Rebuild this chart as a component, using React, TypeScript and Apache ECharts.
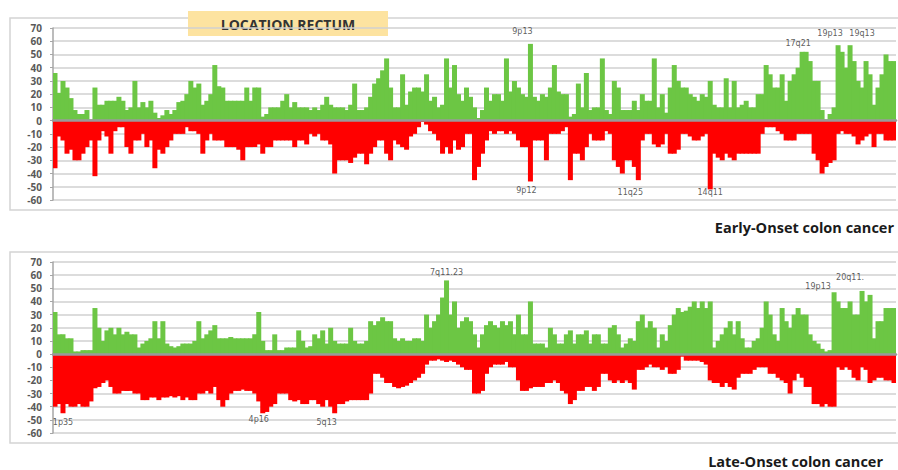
import React, { useEffect, useRef } from "react";
import * as echarts from "echarts";

// ---- Data ----
const earlyGain: number[] = [
  36, 21, 30, 25, 17, 8, 5, 5, 8, 1, 25, 12, 12, 15, 15, 15, 18, 15, 8, 10,
  30, 10, 14, 10, 15, 6, 2, 4, 8, 5, 8, 14, 15, 20, 30, 25, 28, 12, 15, 20,
  42, 26, 25, 15, 15, 15, 15, 15, 25, 15, 25, 25, 3, 5, 10, 10, 10, 15, 20, 10,
  14, 10,
  10, 10, 8, 10, 8, 12, 18, 12, 10, 10, 10, 8, 12, 28, 8, 8, 10, 18, 28, 32,
  38, 47, 25, 10, 10, 35, 12, 22, 25, 25, 22, 35, 15, 18, 10, 12, 47, 25, 42, 20,
  15, 25, 18, 10, 2, 8, 25, 15, 20, 20, 15, 47, 22, 30, 25, 20, 18, 58, 18, 15,
  20, 18, 25, 42, 22, 20, 20, 3, 5, 28, 10, 36, 8, 10, 10,
  47, 8, 5, 30, 25, 8, 8, 8, 15, 8, 20, 15, 15, 47, 10, 20, 6, 25, 42, 30,
  25, 25, 20, 18, 15, 20, 18, 30, 12, 10, 10, 32, 10, 30, 10, 12, 15, 10, 10, 20,
  20, 42, 35, 25, 25, 35, 15, 30, 35, 40, 52, 52, 45, 30, 30, 8, 1, 5, 10, 57,
  52, 40, 57, 45, 30, 25, 45, 35, 12, 25, 35, 50, 45, 45,
];
const earlyLoss: number[] = [
  -36, -12, -15, -25, -22, -30, -30, -25, -20, -15, -42, -15, -8, -12, -25, -8, -5, -5, -20, -25,
  -15, -15, -10, -20, -15, -36, -22, -25, -20, -15, -10, -10, -10, -5, -8, -8, -10, -25, -15, -10,
  -15, -15, -15, -20, -20, -20, -22, -30, -20, -20, -20, -18, -25, -20, -20, -15, -15, -15, -15, -15,
  -20, -15,
  -15, -18, -10, -12, -10, -15, -15, -18, -40, -30, -30, -30, -32, -28, -25, -25, -33, -25, -20, -15,
  -15, -25, -30, -15, -18, -20, -22, -12, -10, -5, -1, -3, -8, -10, -15, -25, -20, -25, -15, -22,
  -20, -10, -10, -45, -35, -25, -15, -8, -10, -8, -8, -10, -8, -10, -15, -20, -20, -46, -15, -15,
  -15, -30, -10, -10, -10, -8, -5, -45, -25, -25, -30, -20, -10, -15, -15,
  -15, -8, -10, -30, -35, -40, -30, -30, -35, -45, -15, -10, -10, -18, -20, -18, -10, -25, -25, -22,
  -10, -10, -12, -15, -15, -12, -10, -52, -25, -28, -30, -25, -28, -30, -25, -25, -25, -25, -25, -25,
  -10, -5, -5, -5, -8, -10, -15, -15, -15, -10, -10, -10, -10, -25, -30, -40, -35, -32, -30, -10,
  -8, -10, -10, -12, -18, -15, -12, -10, -20, -10, -10, -15, -15, -15,
];
const lateGain: number[] = [
  32, 15, 15, 12, 12, 2, 2, 3, 3, 3, 35, 20, 10, 18, 20, 15, 20, 15, 17, 15,
  15, 5, 8, 10, 12, 25, 12, 25, 8, 6, 5, 6, 8, 8, 8, 10, 25, 12, 15, 18,
  22, 12, 12, 12, 13, 12, 12, 12, 12, 12, 15, 32, 10, 3, 3, 15, 3, 3, 5, 5,
  5, 18,
  10, 5, 6, 15, 12, 18, 8, 20, 10, 8, 8, 8, 20, 10, 8, 8, 10, 25, 22, 25,
  28, 25, 25, 12, 10, 12, 10, 10, 12, 12, 10, 30, 20, 25, 30, 43, 56, 30, 40, 20,
  25, 28, 25, 15, 5, 15, 22, 25, 22, 20, 25, 22, 25, 15, 30, 15, 15, 40, 8, 8,
  8, 5, 20, 15, 8, 8, 15, 18, 8, 15, 15, 18, 8, 15, 15,
  8, 8, 20, 22, 15, 5, 8, 12, 10, 25, 30, 20, 25, 20, 5, 15, 10, 22, 30, 35,
  32, 33, 36, 40, 35, 40, 35, 40, 5, 10, 15, 20, 25, 15, 25, 12, 5, 5, 10, 12,
  20, 40, 30, 15, 10, 35, 25, 20, 30, 35, 30, 30, 15, 10, 8, 4, 2, 3, 47, 40,
  35, 35, 40, 30, 30, 48, 40, 45, 12, 25, 25, 35, 35, 35,
];
const lateLoss: number[] = [
  -40, -38, -45, -38, -40, -40, -38, -40, -40, -36, -26, -25, -22, -20, -25, -30, -30, -28, -28, -28,
  -30, -30, -35, -35, -33, -33, -35, -33, -33, -32, -33, -32, -35, -33, -35, -35, -30, -30, -28, -30,
  -25, -35, -40, -35, -30, -28, -28, -27, -28, -28, -30, -36, -45, -44, -40, -38, -30, -30, -30, -35,
  -36, -35,
  -38, -38, -35, -35, -38, -40, -35, -40, -45, -38, -38, -36, -35, -35, -35, -35, -35, -30, -15, -15,
  -18, -22, -22, -25, -26, -25, -24, -22, -20, -18, -15, -8, -5, -5, -4, -5, -6, -5, -6, -8,
  -10, -12, -12, -30, -30, -28, -15, -10, -8, -8, -8, -6, -10, -10, -20, -28, -28, -26, -25, -25,
  -25, -22, -22, -20, -22, -28, -30, -38, -35, -28, -28, -25, -25, -28, -25,
  -15, -15, -20, -22, -20, -22, -20, -22, -27, -12, -12, -10, -8, -10, -10, -12, -10, -15, -15, -12,
  -2, -5, -5, -5, -5, -6, -8, -20, -22, -22, -25, -22, -25, -27, -18, -15, -15, -15, -12, -10,
  -10, -10, -15, -15, -18, -20, -22, -30, -20, -15, -18, -25, -25, -38, -38, -40, -38, -40, -40, -10,
  -12, -10, -12, -18, -20, -10, -12, -22, -20, -18, -18, -20, -20, -22,
];
const categories: string[] = earlyGain.map((_, i) => String(i + 1));

// Band annotations: [label, bar index, value where the label sits]
const earlyNotes: [string, number, number][] = [
  ["9p13", 117, 67],
  ["9p12", 118, -52.5],
  ["11q25", 144, -54],
  ["14q11", 164, -54],
  ["17q21", 186, 58],
  ["19p13", 194, 66],
  ["19q13", 202, 66],
];
const lateNotes: [string, number, number][] = [
  ["1p35", 2, -52],
  ["4p16", 51, -50],
  ["5q13", 68, -52],
  ["7q11.23", 98, 62],
  ["19p13", 191, 51],
  ["20q11.", 199, 58],
];
const yTicks = { min: -60, max: 70, interval: 10 };

const GREEN = "#6cc644";
const RED = "#ff0000";

function buildOption() {
  const grids = [
    { left: 53, top: 28, width: 843, height: 172 },
    { left: 53, top: 262, width: 843, height: 171 },
  ];
  const xAxis = [0, 1].map((i) => ({
    type: "category",
    gridIndex: i,
    data: categories,
    z: 3,
    axisLine: { show: true, onZero: true, lineStyle: { color: "#9a9a9a", width: 2.5 } },
    axisTick: { show: false },
    axisLabel: { show: false },
    splitLine: { show: false },
  }));
  const yAxis = [0, 1].map((i) => ({
    type: "value",
    gridIndex: i,
    min: yTicks.min,
    max: yTicks.max,
    interval: yTicks.interval,
    axisLine: { show: true, lineStyle: { color: "#a6a6a6", width: 1.5 } },
    axisTick: { show: true, length: 3, lineStyle: { color: "#a6a6a6" } },
    axisLabel: {
      margin: 11,
      fontSize: 10,
      lineHeight: 11,
      fontWeight: "bold",
      color: "#595959",
      fontFamily: "Open Sans",
    },
    splitLine: { lineStyle: { color: "#d0d0d0", width: 1.5 } },
  }));
  const barSeries = (data: number[], idx: number, color: string) => ({
    type: "bar",
    xAxisIndex: idx,
    yAxisIndex: idx,
    data,
    barWidth: 5,
    barGap: "-100%",
    itemStyle: { color },
    silent: true,
  });
  const noteSeries = (notes: [string, number, number][], idx: number) => ({
    type: "scatter",
    xAxisIndex: idx,
    yAxisIndex: idx,
    symbolSize: 1,
    itemStyle: { color: "rgba(0,0,0,0)" },
    z: 5,
    data: notes.map((n) => ({ name: n[0], value: [n[1], n[2]] })),
    label: {
      show: true,
      position: "inside",
      formatter: "{b}",
      fontSize: 8,
      color: "#333",
      fontFamily: "DejaVu Sans",
    },
  });
  return {
    animation: false,
    backgroundColor: "#ffffff",
    grid: grids,
    xAxis,
    yAxis,
    series: [
      barSeries(earlyGain, 0, GREEN),
      barSeries(earlyLoss, 0, RED),
      barSeries(lateGain, 1, GREEN),
      barSeries(lateLoss, 1, RED),
      noteSeries(earlyNotes, 0),
      noteSeries(lateNotes, 1),
    ],
    graphic: [
      {
        type: "rect",
        shape: { x: 10, y: 18, width: 895, height: 192 },
        style: { fill: "none", stroke: "#d4d4d4", lineWidth: 1.5 },
        silent: true,
      },
      {
        type: "rect",
        shape: { x: 10, y: 252, width: 895, height: 191 },
        style: { fill: "none", stroke: "#d4d4d4", lineWidth: 1.5 },
        silent: true,
      },
      {
        type: "rect",
        shape: { x: 188, y: 11, width: 200, height: 25 },
        style: { fill: "#fde3a0" },
        silent: true,
      },
      {
        type: "text",
        x: 288,
        y: 24,
        style: {
          text: "LOCATION RECTUM",
          align: "center",
          verticalAlign: "middle",
          font: "bold 14px 'Open Sans'",
          fill: "#333333",
        },
      },
      {
        type: "text",
        x: 894,
        y: 227,
        style: {
          text: "Early-Onset colon cancer",
          align: "right",
          verticalAlign: "middle",
          font: "bold 14.5px 'Open Sans'",
          fill: "#1a1a1a",
        },
      },
      {
        type: "text",
        x: 883,
        y: 461,
        style: {
          text: "Late-Onset colon cancer",
          align: "right",
          verticalAlign: "middle",
          font: "bold 14.5px 'Open Sans'",
          lineHeight: 16,
          fill: "#1a1a1a",
        },
      },
    ],
  };
}

export default function App() {
  const ref = useRef<HTMLDivElement>(null);
  useEffect(() => {
    if (!ref.current) return;
    const chart = echarts.init(ref.current, null, { renderer: "svg" });
    chart.setOption(buildOption() as any);
    return () => chart.dispose();
  }, []);
  return (
    <div
      ref={ref}
      style={{ position: "fixed", left: 0, top: 0, width: 898, height: 470, background: "#fff" }}
    />
  );
}
